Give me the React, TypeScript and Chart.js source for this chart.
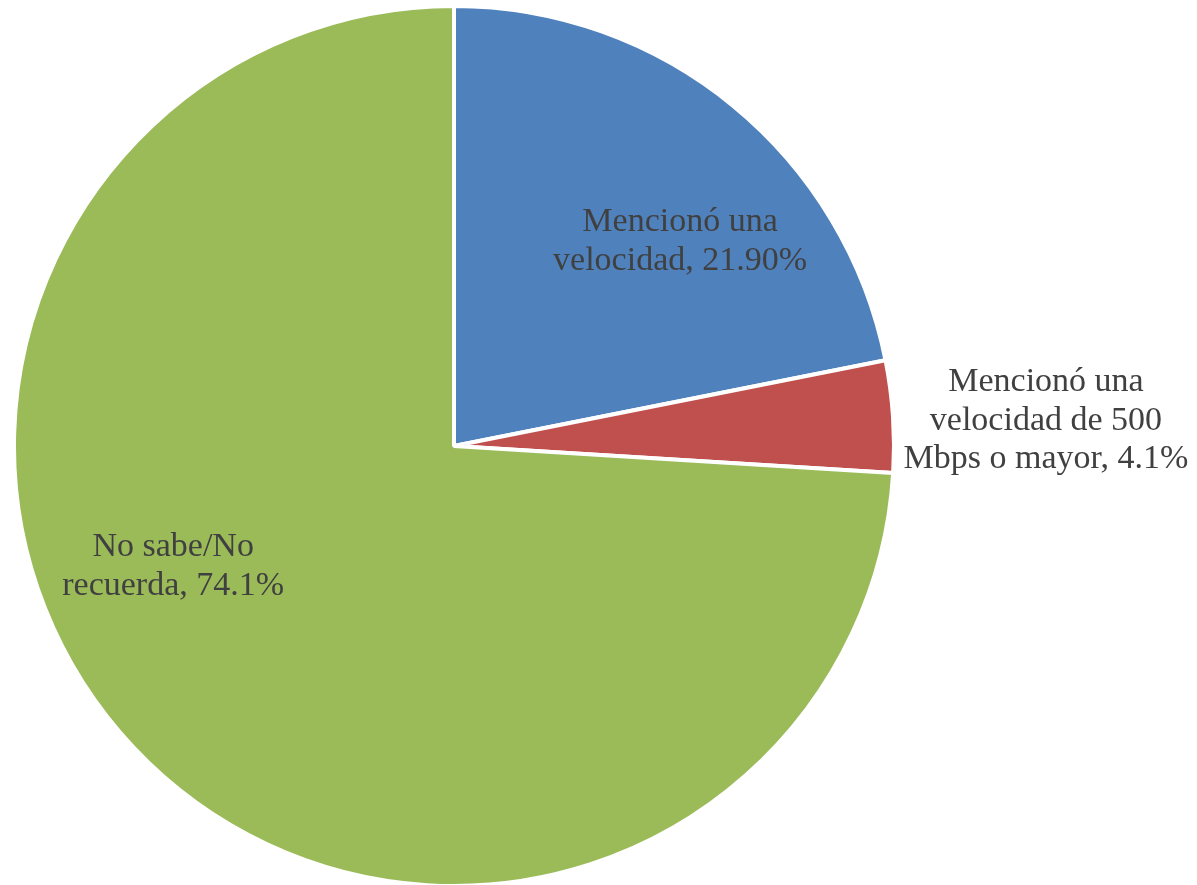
import React, { useEffect, useRef } from "react";
import { Chart, registerables } from "chart.js";

Chart.register(...registerables);

const categories = [
  "Mencionó una velocidad",
  "Mencionó una velocidad de 500 Mbps o mayor",
  "No sabe/No recuerda",
];
const values = [21.9, 4.1, 74.1];
const valueLabels = ["21.90%", "4.1%", "74.1%"];
const labelLines = [
  ["Mencionó una", "velocidad, 21.90%"],
  ["Mencionó una", "velocidad de 500", "Mbps o mayor, 4.1%"],
  ["No sabe/No", "recuerda, 74.1%"],
];
const colors = ["#4F81BD", "#C0504D", "#9BBB59"];

// label placement: angle offset from slice mid-angle (deg), distance as fraction of radius
const labelPlacement = [
  { dAngle: 9.8, dist: 0.682 },
  { dAngle: 2.3, dist: 1.352 },
  { dAngle: 18.5, dist: 0.706 },
];

const labelPlugin = {
  id: "sliceLabels",
  afterDatasetsDraw(chart: any) {
    const meta = chart.getDatasetMeta(0);
    const ctx = chart.ctx;
    ctx.save();
    ctx.font = '34px "Liberation Serif"';
    ctx.fillStyle = "#404040";
    ctx.textAlign = "center";
    ctx.textBaseline = "alphabetic";
    const lh = 38.5;
    meta.data.forEach((arc: any, i: number) => {
      const { x, y, startAngle, endAngle, outerRadius } = arc.getProps(
        ["x", "y", "startAngle", "endAngle", "outerRadius"],
        true
      );
      const p = labelPlacement[i];
      const mid = (startAngle + endAngle) / 2 + (p.dAngle * Math.PI) / 180;
      const r = (outerRadius - 2) * p.dist;
      const cx = x + Math.cos(mid) * r;
      const cy = y + Math.sin(mid) * r;
      const lines = labelLines[i];
      lines.forEach((t, k) => {
        const by = cy + (k - (lines.length - 1) / 2) * lh;
        ctx.fillText(t, cx, by);
      });
    });
    ctx.restore();
  },
};

export default function App() {
  const ref = useRef<HTMLCanvasElement>(null);
  useEffect(() => {
    if (!ref.current) return;
    const chart = new Chart(ref.current, {
      type: "pie",
      data: {
        labels: categories,
        datasets: [
          {
            data: values,
            backgroundColor: colors,
            borderColor: "#FFFFFF",
            borderWidth: 4,
            hoverOffset: 0,
          },
        ],
      },
      options: {
        responsive: false,
        animation: false,
        layout: { padding: { top: 4, bottom: 2, left: 12, right: 301 } },
        plugins: {
          legend: { display: false },
          tooltip: { enabled: false },
        },
      },
      plugins: [labelPlugin],
    });
    return () => chart.destroy();
  }, []);
  return (
    <div
      style={{
        position: "fixed",
        left: 0,
        top: 0,
        width: 1197,
        height: 890,
        background: "#fff",
      }}
    >
      <canvas ref={ref} width={1197} height={890} style={{ display: "block" }} />
    </div>
  );
}
